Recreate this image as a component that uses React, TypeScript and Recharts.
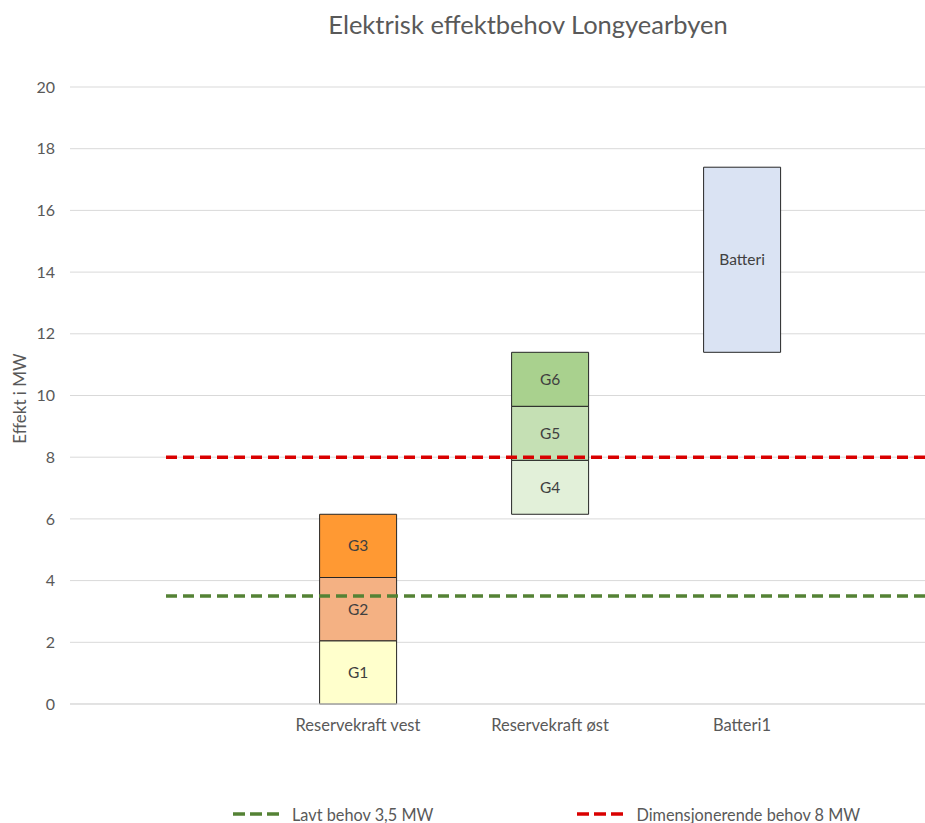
import React from "react";
import {
  ComposedChart,
  Bar,
  Line,
  XAxis,
  YAxis,
  CartesianGrid,
  Legend,
  LabelList,
} from "recharts";

// Categories along the x axis (first and last slots are empty padding)
const categories = ["", "Reservekraft vest", "Reservekraft øst", "Batteri1", ""];

// Invisible offset under each floating stack (MW)
const baseMW = [null, 0, 6.15, 11.4, null];

// Generator / battery capacity in MW per category
const g1MW = [null, 2.05, null, null, null];
const g2MW = [null, 2.05, null, null, null];
const g3MW = [null, 2.05, null, null, null];
const g4MW = [null, null, 1.75, null, null];
const g5MW = [null, null, 1.75, null, null];
const g6MW = [null, null, 1.75, null, null];
const batteriMW = [null, null, null, 6.0, null];

// Demand reference lines
const lavtBehov = [3.5, 3.5, 3.5, 3.5, 3.5];
const dimBehov = [8, 8, 8, 8, 8];

const yTicks = [0, 2, 4, 6, 8, 10, 12, 14, 16, 18, 20];

const lineNames = ["Lavt behov 3,5 MW", "Dimensjonerende behov 8 MW"];

const units = [
  { key: "G1", values: g1MW, fill: "#FFFFCC" },
  { key: "G2", values: g2MW, fill: "#F4B183" },
  { key: "G3", values: g3MW, fill: "#FF9933" },
  { key: "G4", values: g4MW, fill: "#E2F0D9" },
  { key: "G5", values: g5MW, fill: "#C5E0B4" },
  { key: "G6", values: g6MW, fill: "#A9D18E" },
  { key: "Batteri", values: batteriMW, fill: "#DAE3F3" },
];

const data = categories.map((name, i) => {
  const row: Record<string, any> = {
    name,
    base: baseMW[i],
    lavt: lavtBehov[i],
    dim: dimBehov[i],
  };
  units.forEach((u) => {
    row[u.key] = u.values[i];
  });
  return row;
});

const FONT = "Lato, 'Liberation Sans', sans-serif";
const TEXT = "#595959";

const renderLegend = (props: any) => {
  const items = (props.payload || [])
    .filter((p: any) => lineNames.includes(p.value))
    .sort((a: any, b: any) => lineNames.indexOf(a.value) - lineNames.indexOf(b.value));
  return (
    <div style={{ display: "flex", gap: 144, fontFamily: FONT, fontSize: 16.3, color: TEXT, height: 22, alignItems: "center" }}>
      {items.map((p: any) => (
        <div key={p.value} style={{ display: "flex", alignItems: "center" }}>
          <svg width={46} height={6} style={{ marginRight: 13 }}>
            <line x1={0} y1={3} x2={46} y2={3} stroke={p.color} strokeWidth={3.5} strokeDasharray="12 5" />
          </svg>
          <span>{p.value}</span>
        </div>
      ))}
    </div>
  );
};

const App: React.FC = () => (
  <div style={{ position: "absolute", left: 0, top: 0, width: 925, height: 823, overflow: "hidden", background: "#fff" }}>
    <div
      style={{
        position: "absolute",
        left: 0,
        top: 9,
        width: 1056,
        textAlign: "center",
        fontFamily: FONT,
        fontSize: 25.5,
        color: TEXT,
      }}
    >
      Elektrisk effektbehov Longyearbyen
    </div>
    <ComposedChart
      width={1054}
      height={823}
      data={data}
      margin={{ top: 87, right: 24, bottom: 57, left: 0 }}
      barCategoryGap="30%"
    >
      <CartesianGrid vertical={false} stroke="#D9D9D9" />
      <XAxis
        dataKey="name"
        interval={0}
        height={40}
        tickLine={false}
        axisLine={{ stroke: "#D9D9D9" }}
        tickMargin={9}
        tick={{ fill: TEXT, fontSize: 16.5, fontFamily: FONT }}
      />
      <YAxis
        width={70}
        domain={[0, 20]}
        ticks={yTicks}
        tickLine={false}
        axisLine={false}
        tickMargin={9}
        tick={{ fill: TEXT, fontSize: 16, fontFamily: FONT }}
        label={{
          value: "Effekt i MW",
          angle: -90,
          position: "center",
          dx: -15,
          dy: 3,
          style: { fill: TEXT, fontSize: 17, fontFamily: FONT },
        }}
      />
      <Bar dataKey="base" stackId="s" fill="transparent" legendType="none" isAnimationActive={false} />
      {units.map((u) => (
        <Bar
          key={u.key}
          dataKey={u.key}
          stackId="s"
          fill={u.fill}
          stroke="#262626"
          strokeWidth={1}
          legendType="none"
          isAnimationActive={false}
        >
          <LabelList
            dataKey={u.key}
            position="center"
            formatter={(v: any) => (v ? u.key : "")}
            style={{ fill: "#404040", fontSize: 15.5, fontFamily: FONT }}
          />
        </Bar>
      ))}
      <Line
        dataKey="lavt"
        name={lineNames[0]}
        stroke="#548235"
        strokeWidth={3.5}
        strokeDasharray="11 6"
        dot={false}
        activeDot={false}
        isAnimationActive={false}
      />
      <Line
        dataKey="dim"
        name={lineNames[1]}
        stroke="#D90000"
        strokeWidth={3.5}
        strokeDasharray="11 6"
        dot={false}
        activeDot={false}
        isAnimationActive={false}
      />
      <Legend content={renderLegend} wrapperStyle={{ left: 233, bottom: -2, width: "auto" }} />
    </ComposedChart>
  </div>
);

export default App;
